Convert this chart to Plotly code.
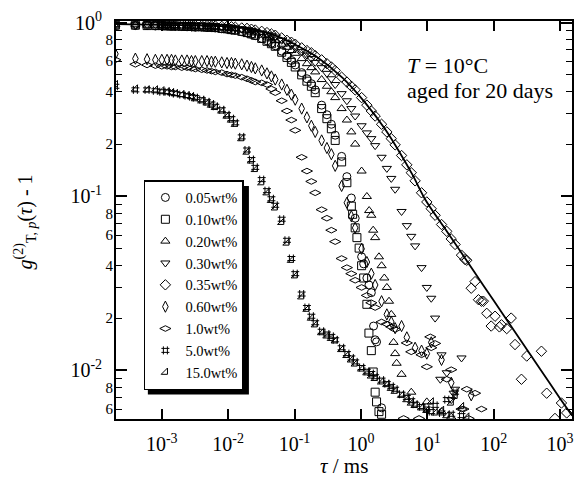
import plotly.graph_objects as go

N = None

# Correlator lag times (ms), four channels per octave
TAU = [
    2.0e-4, 4.0e-4, 6.0e-4, 8.0e-4,
    1.0e-3, 1.2e-3, 1.4e-3, 1.6e-3,
    2.0e-3, 2.4e-3, 2.8e-3, 3.2e-3,
    4.0e-3, 4.8e-3, 5.6e-3, 6.4e-3,
    8.0e-3, 9.6e-3, 1.12e-2, 1.28e-2,
    1.6e-2, 1.92e-2, 2.24e-2, 2.56e-2,
    3.2e-2, 3.84e-2, 4.48e-2, 5.12e-2,
    6.4e-2, 7.68e-2, 8.96e-2, 0.1024,
    0.128, 0.1536, 0.1792, 0.2048,
    0.256, 0.3072, 0.3584, 0.4096,
    0.512, 0.6144, 0.7168, 0.8192,
    1.024, 1.229, 1.434, 1.638,
    2.048, 2.458, 2.867, 3.277,
    4.096, 4.915, 5.734, 6.554,
    8.192, 9.830, 11.47, 13.11,
    16.38, 19.66, 22.94, 26.21,
    32.77, 39.32, 45.88, 52.43,
    65.54, 78.64, 91.75, 104.9,
    131.1, 157.3, 183.5, 209.7,
    262.1, 314.6, 367.0, 419.4,
    524.3, 629.1, 734.0, 838.9,
    1049.0, 1258.0,
]

G_005 = [
    0.96, 0.96, 0.96, 0.955,
    0.955, 0.955, 0.95, 0.95,
    0.95, 0.945, 0.945, 0.94,
    0.94, 0.935, 0.935, 0.93,
    0.92, 0.915, 0.905, 0.90,
    0.885, 0.87, 0.855, 0.84,
    0.81, 0.785, 0.76, 0.735,
    0.685, 0.645, 0.605, 0.57,
    0.515, 0.475, 0.445, 0.41,
    0.335, 0.295, 0.26, 0.225,
    0.17, 0.13, 0.098, 0.075,
    0.045, 0.034, 0.028, 0.015,
    0.0061, N, N, N,
    N, N, N, N,
    N, N, N, N,
    N, N, N, N,
    N, N, N, N,
    N, N, N, N,
    N, N, N, N,
    N, N, N, N,
    N, N, N, N,
    N, N,
]

G_010 = [
    0.965, 0.965, 0.96, 0.96,
    0.96, 0.955, 0.955, 0.955,
    0.95, 0.95, 0.95, 0.945,
    0.945, 0.94, 0.94, 0.935,
    0.925, 0.92, 0.91, 0.905,
    0.89, 0.875, 0.86, 0.845,
    0.81, 0.78, 0.755, 0.73,
    0.675, 0.63, 0.59, 0.555,
    0.50, 0.46, 0.43, 0.395,
    0.32, 0.28, 0.245, 0.21,
    0.158, 0.12, 0.088, 0.066,
    0.040, 0.024, 0.013, 0.0075,
    0.0056, N, N, N,
    N, N, N, N,
    N, N, N, N,
    N, N, N, N,
    N, N, N, N,
    N, N, N, N,
    N, N, N, N,
    N, N, N, N,
    N, N, N, N,
    N, N,
]

G_020 = [
    0.97, 0.97, 0.965, 0.965,
    0.965, 0.96, 0.96, 0.96,
    0.955, 0.955, 0.955, 0.95,
    0.95, 0.945, 0.945, 0.94,
    0.935, 0.93, 0.925, 0.92,
    0.905, 0.895, 0.88, 0.87,
    0.845, 0.825, 0.805, 0.785,
    0.75, 0.72, 0.69, 0.665,
    0.62, 0.58, 0.55, 0.52,
    0.47, 0.43, 0.40, 0.37,
    0.32, 0.275, 0.235, 0.20,
    0.14, 0.10, 0.078, 0.058,
    0.040, 0.030, 0.021, 0.0125,
    0.0095, N, 0.0075, N,
    N, 0.0066, N, N,
    0.0058, N, 0.0054, N,
    N, N, N, N,
    N, N, N, N,
    N, N, N, N,
    N, N, N, N,
    N, N, N, N,
    N, N,
]

G_030 = [
    0.975, 0.97, 0.97, 0.97,
    0.965, 0.965, 0.965, 0.96,
    0.96, 0.96, 0.96, 0.955,
    0.955, 0.955, 0.95, 0.95,
    0.945, 0.94, 0.935, 0.93,
    0.92, 0.91, 0.90, 0.89,
    0.87, 0.855, 0.84, 0.825,
    0.79, 0.765, 0.74, 0.715,
    0.68, 0.65, 0.62, 0.59,
    0.55, 0.51, 0.475, 0.44,
    0.39, 0.355, 0.32, 0.29,
    0.255, 0.232, 0.215, 0.196,
    0.168, 0.145, 0.127, 0.11,
    0.082, 0.068, 0.059, 0.052,
    0.039, 0.030, 0.026, 0.020,
    0.0123, 0.0097, 0.0068, 0.0078,
    0.0118, N, N, N,
    N, N, N, N,
    N, N, N, N,
    N, N, N, N,
    N, N, N, N,
    N, N,
]

G_035 = [
    0.98, 0.975, 0.975, 0.97,
    0.97, 0.97, 0.97, 0.965,
    0.965, 0.965, 0.96, 0.96,
    0.96, 0.96, 0.955, 0.955,
    0.95, 0.95, 0.945, 0.94,
    0.93, 0.925, 0.915, 0.905,
    0.89, 0.875, 0.86, 0.845,
    0.815, 0.79, 0.77, 0.75,
    0.715, 0.69, 0.67, 0.645,
    0.61, 0.58, 0.555, 0.53,
    0.485, 0.455, 0.43, 0.41,
    0.37, 0.335, 0.31, 0.29,
    0.26, 0.235, 0.215, 0.198,
    0.172, 0.152, 0.137, 0.123,
    0.105, 0.093, 0.085, 0.078,
    0.069, 0.063, 0.057, 0.053,
    0.046, 0.043, 0.0297, 0.0324,
    0.025, 0.0213, 0.018, 0.0205,
    0.0183, 0.0174, 0.020, 0.0141,
    0.0089, 0.0121, N, N,
    0.0129, 0.0074, N, 0.0053,
    0.0065, 0.0057,
]

G_060 = [
    0.66, 0.62, 0.615, 0.61,
    0.61, 0.61, 0.61, 0.605,
    0.605, 0.605, 0.60, 0.60,
    0.60, 0.60, 0.595, 0.595,
    0.59, 0.585, 0.585, 0.58,
    0.575, 0.565, 0.555, 0.545,
    0.53, 0.51, 0.49, 0.47,
    0.44, 0.41, 0.385, 0.36,
    0.32, 0.285, 0.255, 0.235,
    0.21, 0.19, 0.175, 0.15,
    0.115, 0.092, 0.077, 0.066,
    0.050, 0.042, 0.036, 0.031,
    0.025, 0.021, 0.019, 0.0175,
    0.018, 0.0155, N, 0.0135,
    0.013, 0.0125, 0.0145, N,
    0.0115, N, 0.0085, N,
    N, N, 0.0072, N,
    N, N, N, N,
    N, N, N, N,
    N, N, N, N,
    N, N, N, N,
    N, N,
]

G_100 = [
    0.61, 0.575, 0.57, 0.565,
    0.56, 0.56, 0.555, 0.555,
    0.55, 0.55, 0.545, 0.54,
    0.535, 0.53, 0.525, 0.52,
    0.515, 0.505, 0.50, 0.495,
    0.485, 0.475, 0.465, 0.455,
    0.45, 0.44, 0.415, 0.395,
    0.355, 0.31, 0.275, 0.24,
    0.168, 0.14, 0.122, 0.105,
    0.084, 0.075, 0.064, 0.055,
    0.044, 0.039, 0.036, 0.033,
    0.030, 0.027, 0.0245, 0.023,
    0.019, 0.0185, 0.0178, 0.0172,
    N, 0.0144, 0.0128, N,
    0.0123, 0.0105, 0.0135, 0.0143,
    N, 0.0089, 0.0101, N,
    0.006, 0.0078, N, 0.0074,
    0.006, N, N, N,
    N, N, N, N,
    N, N, N, N,
    N, N, N, N,
    N, N,
]

G_500 = [
    0.43, 0.41, 0.41, 0.405,
    0.40, 0.40, 0.395, 0.39,
    0.385, 0.38, 0.375, 0.37,
    0.36, 0.35, 0.34, 0.33,
    0.315, 0.295, 0.28, 0.265,
    0.22, 0.185, 0.163, 0.147,
    0.125, 0.108, 0.097, 0.089,
    0.074, 0.056, 0.044, 0.036,
    0.0275, 0.023, 0.0205, 0.0188,
    0.0168, 0.0162, 0.0157, 0.015,
    0.0135, 0.0125, 0.0118, 0.0112,
    0.0104, 0.0099, 0.0096, 0.0092,
    0.0088, 0.0084, 0.0081, 0.0078,
    0.0073, 0.007, 0.0067, 0.0064,
    0.0062, 0.006, 0.0058, 0.0063,
    0.0057, 0.0068, 0.0056, 0.0075,
    0.0055, N, N, N,
    N, N, N, N,
    N, N, N, N,
    N, N, N, N,
    N, N, N, N,
    N, N,
]

G_1500 = [
    0.44, 0.415, 0.41, 0.41,
    0.405, 0.40, 0.395, 0.39,
    0.385, 0.38, 0.375, 0.365,
    0.355, 0.345, 0.335, 0.325,
    0.31, 0.29, 0.275, 0.26,
    0.215, 0.18, 0.16, 0.143,
    0.12, 0.105, 0.095, 0.086,
    0.071, 0.054, 0.043, 0.035,
    0.0265, 0.0225, 0.020, 0.0183,
    0.0165, 0.0158, 0.0153, 0.0148,
    0.0132, 0.0122, 0.0115, 0.0109,
    0.0102, 0.0097, 0.0093, 0.0090,
    0.0086, 0.0083, 0.0079, 0.0076,
    0.0072, 0.0068, 0.0065, 0.0063,
    0.0061, 0.0059, 0.0066, 0.0057,
    0.0059, 0.0055, 0.0065, 0.0071,
    0.0062, 0.0054, N, N,
    N, N, N, N,
    N, N, N, N,
    N, N, N, N,
    N, N, N, N,
    N, N,
]

# Additional channels resolved in the steep parts and noisy tails
EXTRA_TAU_005 = [1.1, 1.32, 1.55, 1.72]
EXTRA_G_005 = [0.041, 0.031, 0.018, 0.0146]
EXTRA_TAU_010 = [0.75, 0.87, 0.94, 1.1, 1.32, 1.53, 1.72, 1.87]
EXTRA_G_010 = [0.079, 0.058, 0.0505, 0.034, 0.0164, 0.0098, 0.0066, 0.0058]
EXTRA_TAU_020 = [1.33, 1.53, 1.87, 2.25, 2.65, 3.1, 3.45]
EXTRA_G_020 = [0.083, 0.064, 0.045, 0.034, 0.025, 0.0145, 0.011]
EXTRA_TAU_030 = [15.7, 25.0]
EXTRA_G_030 = [0.0089, 0.0074]
EXTRA_TAU_035 = [37.0, 59.0, 70.0, 122.0]
EXTRA_G_035 = [0.0434, 0.0255, 0.025, 0.0178]
EXTRA_TAU_100 = [4.4, 7.5, 11.1, 35.0, 42.0]
EXTRA_G_100 = [0.0053, 0.0053, 0.0156, 0.006, 0.0053]

# Fitted curve through the 0.35 wt% data
FIT_TAU = [2e-4, 1e-3, 0.01, 0.03, 0.066, 0.1, 0.21, 0.53, 1.18, 2.36,
           3.74, 6.0, 9.4, 20.0, 50.0, 100.0, 200.0, 500.0, 1000.0, 1520.0]
FIT_G = [0.98, 0.97, 0.95, 0.895, 0.81, 0.75, 0.64, 0.48, 0.343, 0.241,
         0.182, 0.133, 0.0955, 0.0625, 0.0373, 0.0252, 0.0171, 0.0102, 0.0069, 0.0055]

LABELS = ["0.05wt%", "0.10wt%", "0.20wt%", "0.30wt%", "0.35wt%",
          "0.60wt%", "1.0wt%", "5.0wt%", "15.0wt%"]
SYMBOLS = ["circle-open", "square-open", "triangle-up-open", "triangle-down-open",
           "diamond-open", "diamond-tall-open", "diamond-wide-open", "hash-open",
           "triangle-se-open"]
SIZES = [8, 8, 8, 8, 8, 8, 8, 8, 7]
VALUES = [G_005, G_010, G_020, G_030, G_035, G_060, G_100, G_500, G_1500]
EXTRA_TAU = [EXTRA_TAU_005, EXTRA_TAU_010, EXTRA_TAU_020, EXTRA_TAU_030,
             EXTRA_TAU_035, [], EXTRA_TAU_100, [], []]
EXTRA_G = [EXTRA_G_005, EXTRA_G_010, EXTRA_G_020, EXTRA_G_030,
           EXTRA_G_035, [], EXTRA_G_100, [], []]

# Axis ticks
X_RANGE = [-3.69, 3.18]
Y_RANGE = [-2.279, 0.0086]
X_TICKS = [1e-3, 1e-2, 1e-1, 1e0, 1e1, 1e2, 1e3]
X_TEXT = ["10<sup>-3</sup>", "10<sup>-2</sup>", "10<sup>-1</sup>", "10<sup>0</sup>",
          "10<sup>1</sup>", "10<sup>2</sup>", "10<sup>3</sup>"]
Y_TICKS = [1e-2, 1e-1, 1e0]
Y_TEXT = ["10<sup>-2</sup>", "10<sup>-1</sup>", "10<sup>0</sup>"]
MINOR_LABELLED = [0.006, 0.008, 0.02, 0.04, 0.06, 0.08, 0.2, 0.4, 0.6, 0.8]
MINOR_LABELS = ["6", "8", "2", "4", "6", "8", "2", "4", "6", "8"]
MINOR_PLAIN = [0.007, 0.009, 0.03, 0.05, 0.07, 0.09, 0.3, 0.5, 0.7, 0.9]

FONT = "Liberation Serif"

fig = go.Figure()
for label, sym, size, g, ext, exg in zip(LABELS, SYMBOLS, SIZES, VALUES, EXTRA_TAU, EXTRA_G):
    xs = [t for t, v in zip(TAU, g) if v is not None] + list(ext)
    ys = [v for v in g if v is not None] + list(exg)
    fig.add_trace(go.Scatter(
        x=xs, y=ys, mode="markers", name=label,
        marker=dict(symbol=sym, size=size, color="black",
                    line=dict(color="black", width=1)),
    ))

fig.add_trace(go.Scatter(
    x=FIT_TAU, y=FIT_G, mode="lines", showlegend=False,
    line=dict(color="black", width=1.8, shape="spline", smoothing=0.8),
))

# Invisible anchors so the overlay axes for the minor ticks get drawn
for ax in ("y2", "y3"):
    fig.add_trace(go.Scatter(x=[1.0], y=[1.0], yaxis=ax, mode="markers",
                             marker=dict(size=0, opacity=0), showlegend=False,
                             hoverinfo="skip"))

L, R, T, B, W, H = 116, 2, 21, 67, 576, 486
PW, PH = W - L - R, H - T - B


def px_x(px):
    return (px - L) / PW


def px_y(py):
    return (H - B - py) / PH


minor_common = dict(type="log", range=Y_RANGE, overlaying="y", anchor="x", side="left",
                    ticks="inside", tickcolor="black", showline=False, mirror="ticks",
                    showgrid=False, zeroline=False)

fig.update_layout(
    width=W, height=H,
    margin=dict(l=L, r=R, t=T, b=B),
    paper_bgcolor="white", plot_bgcolor="white",
    font=dict(family=FONT, color="black"),
    hovermode=False,
    xaxis=dict(type="log", range=X_RANGE, tickvals=X_TICKS, ticktext=X_TEXT,
               ticks="inside", ticklen=10, tickwidth=1.5, tickcolor="black",
               showline=True, linecolor="black", linewidth=1.8, mirror="ticks",
               showgrid=False, zeroline=False, ticklabelstandoff=6,
               tickfont=dict(family=FONT, size=20, color="black")),
    yaxis=dict(type="log", range=Y_RANGE, tickvals=Y_TICKS, ticktext=Y_TEXT,
               ticks="inside", ticklen=11, tickwidth=1.5, tickcolor="black",
               showline=True, linecolor="black", linewidth=1.8, mirror="ticks",
               showgrid=False, zeroline=False, ticklabelstandoff=8,
               tickfont=dict(family=FONT, size=20, color="black")),
    yaxis2=dict(**minor_common, tickvals=MINOR_LABELLED, ticktext=MINOR_LABELS,
                ticklen=6, tickwidth=1.2, ticklabelstandoff=2,
                tickfont=dict(family=FONT, size=15, color="black")),
    yaxis3=dict(**minor_common, tickvals=MINOR_PLAIN, showticklabels=False,
                ticklen=6, tickwidth=1.2),
    legend=dict(x=px_x(144), y=px_y(390), xanchor="left", yanchor="bottom",
                bgcolor="white", bordercolor="black", borderwidth=1.5,
                font=dict(family=FONT, size=14.5, color="black"),
                tracegroupgap=0),
    # drop shadow behind the legend frame
    shapes=[dict(type="rect", xref="paper", yref="paper", layer="above",
                 x0=px_x(148), x1=px_x(249.5), y0=px_y(394.5), y1=px_y(186),
                 fillcolor="black", line=dict(width=0))],
    annotations=[
        dict(text="<i>T</i> = 10°C", xref="paper", yref="paper",
             x=px_x(406), y=px_y(65), xanchor="left", yanchor="middle",
             showarrow=False, font=dict(family=FONT, size=22)),
        dict(text="aged for 20 days", xref="paper", yref="paper",
             x=px_x(406), y=px_y(90), xanchor="left", yanchor="middle",
             showarrow=False, font=dict(family=FONT, size=22)),
        dict(text="<i>τ</i> / ms", xref="paper", yref="paper",
             x=0.5, y=px_y(466), xanchor="center", yanchor="middle",
             showarrow=False, font=dict(family=FONT, size=21)),
        dict(text="<i>g</i><sup>(2)</sup><sub>T, <i>p</i></sub>(<i>τ</i>) - 1",
             xref="paper", yref="paper", textangle=-90,
             x=px_x(25), y=px_y(222), xanchor="center", yanchor="middle",
             showarrow=False, font=dict(family=FONT, size=20)),
    ],
)

fig.write_html("out.html")
